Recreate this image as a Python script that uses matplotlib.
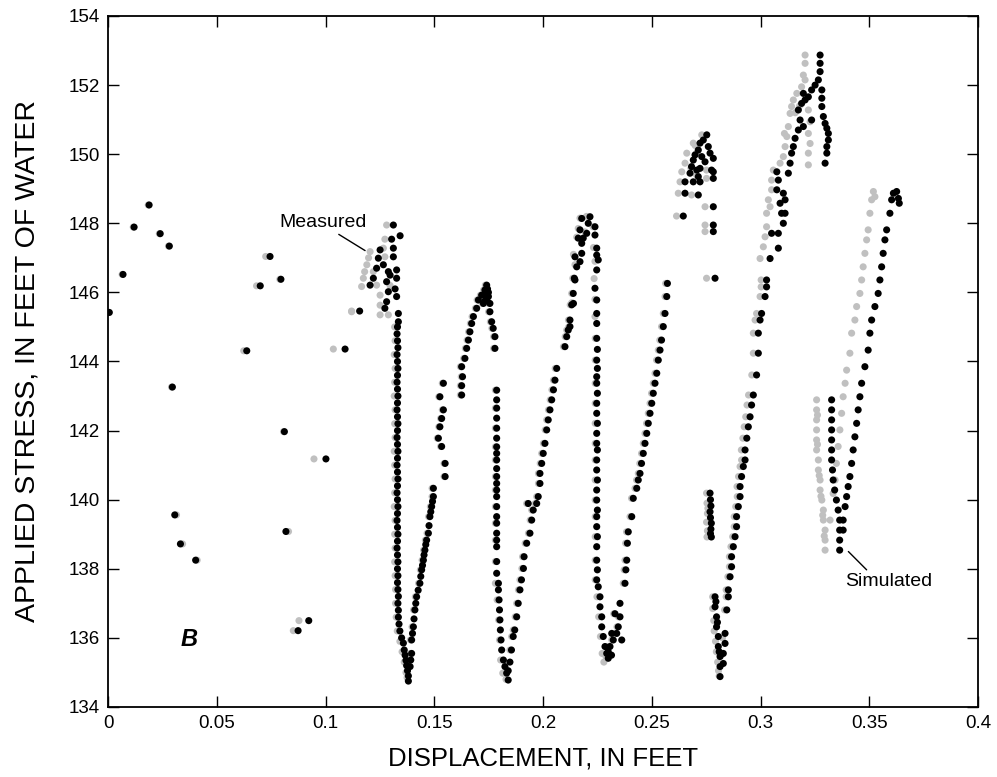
import numpy as np
import matplotlib
matplotlib.use("Agg")
import matplotlib.pyplot as plt

plt.rcParams['font.family'] = ['Liberation Sans', 'DejaVu Sans']

# ---------------- Simulated (black) ----------------
sim_early = [[0.0006,145.42],[0.0069,146.52],[0.0120,147.89],[0.0189,148.53],[0.0240,147.70],[0.0282,147.34],
             [0.0296,143.26],[0.0307,139.56],[0.0333,138.72],[0.0403,138.25],[0.0638,144.31],[0.0700,146.19],
             [0.0745,147.04],[0.0795,146.38],[0.0811,141.97],[0.0818,139.08],[0.0874,136.21],[0.0923,136.50],
             [0.1002,141.18],[0.1090,144.36],[0.1157,145.46]]
sim_top1 = [[0.1205,146.21],[0.1220,146.41],[0.1235,146.70],[0.1243,146.99],[0.1251,147.23],[0.1266,146.80],
            [0.1289,146.60],[0.1281,146.31],[0.1289,146.02],[0.1281,145.73],[0.1273,145.54],[0.1304,147.54],
            [0.1312,147.28],[0.1312,147.03],[0.1312,147.95],[0.1343,147.64],[0.1327,146.65],[0.1327,146.41],
            [0.1327,145.88],[0.1335,145.39],[0.1335,145.15],[0.1320,146.10],[0.1297,146.50]]
sim_down1 = [[0.1331,145.0],[0.1329,144.8],[0.1331,144.6],[0.1333,144.4],[0.1329,144.2],[0.1331,144.0],
             [0.1333,143.8],[0.1331,143.6],[0.1329,143.4],[0.1331,143.2],[0.1333,143.0],[0.1331,142.8],
             [0.1329,142.6],[0.1331,142.4],[0.1333,142.2],[0.1331,142.0],[0.1329,141.8],[0.1331,141.6],
             [0.1333,141.4],[0.1331,141.2],[0.1329,141.0],[0.1331,140.8],[0.1333,140.6],[0.1331,140.4],
             [0.1329,140.2],[0.1331,140.0],[0.1333,139.8],[0.1331,139.6],[0.1329,139.4],[0.1331,139.2],
             [0.1333,139.0],[0.1331,138.8],[0.1329,138.6],[0.1331,138.4],[0.1333,138.2],[0.1331,138.0],
             [0.1333,137.8],[0.1331,137.6],[0.1333,137.4],[0.1335,137.2],[0.1333,137.0],[0.1335,136.8],
             [0.1335,136.6],[0.1338,136.4],[0.1342,136.2],[0.1350,136.0],[0.1358,135.85],[0.1362,135.65],
             [0.1366,135.5],[0.1370,135.35],[0.1373,135.2],[0.1377,135.05],[0.1381,134.9],[0.1381,134.75]]
sim_up1 = [[0.1389,135.17],[0.1392,135.36],[0.1396,135.55],[0.1396,135.94],[0.1400,136.13],[0.1404,136.32],
           [0.1407,136.55],[0.1411,136.81],[0.1415,137.00],[0.1419,137.19],[0.1426,137.38],[0.1434,137.58],
           [0.1438,137.78],[0.1442,137.97],[0.1446,138.10],[0.1450,138.25],[0.1453,138.40],[0.1457,138.54],
           [0.1461,138.70],[0.1465,138.83],[0.1473,139.03],[0.1476,139.25],[0.1480,139.51],[0.1484,139.65],
           [0.1488,139.80],[0.1492,139.95],[0.1496,140.09],[0.1496,140.33]]
sim_mid1 = [[0.1550,140.67],[0.1550,141.05],[0.1534,141.54],[0.1519,141.78],[0.1526,142.11],[0.1534,142.35],
            [0.1542,142.60],[0.1526,142.98],[0.1542,143.37]]
sim_up1b = [[0.1626,143.03],[0.1626,143.30],[0.1630,143.56],[0.1626,143.85],[0.1641,144.09],[0.1649,144.38],
            [0.1657,144.62],[0.1664,144.86],[0.1672,145.10],[0.1680,145.30],[0.1695,145.54],[0.1703,145.78],
            [0.1718,145.92],[0.1733,146.07],[0.1741,146.21],[0.1749,145.88],[0.1726,145.68],[0.1756,145.68],
            [0.1756,145.44],[0.1764,145.15],[0.1771,144.96],[0.1779,144.72],[0.1779,144.38],[0.1737,145.95],
            [0.1745,146.10],[0.1741,145.80],[0.1733,145.75],[0.1749,146.00]]
sim_down2 = [[0.1787,143.17],[0.1787,142.89],[0.1787,142.65],[0.1787,142.36],[0.1787,142.07],[0.1787,141.78],
             [0.1787,141.53],[0.1787,141.34],[0.1787,141.15],[0.1787,140.90],[0.1787,140.67],[0.1787,140.47],
             [0.1787,140.28],[0.1787,140.09],[0.1787,139.80],[0.1787,139.51],[0.1787,139.32],[0.1787,139.03],
             [0.1787,138.83],[0.1787,138.64],[0.1787,138.21],[0.1787,137.87],[0.1795,137.58],[0.1795,137.39],
             [0.1798,137.10],[0.1800,136.81],[0.1802,136.52],[0.1804,136.23],[0.1807,135.94],[0.1810,135.65],
             [0.1818,135.36],[0.1825,135.17],[0.1833,134.98],[0.1840,134.78],[0.1848,135.30],[0.1840,135.05]]
sim_up2 = [[0.1855,135.65],[0.1863,136.04],[0.1870,136.23],[0.1879,136.61],[0.1886,137.00],[0.1894,137.39],
           [0.1901,137.68],[0.1910,138.01],[0.1913,138.35],[0.1925,138.74],[0.1940,139.03],[0.1948,139.41],
           [0.1955,139.70],[0.1932,139.89],[0.1971,139.89],[0.1978,140.09],[0.1986,140.47],[0.1986,140.76],
           [0.1994,141.05],[0.2001,141.34],[0.2009,141.63],[0.2017,142.02],[0.2024,142.31],[0.2032,142.60],
           [0.2040,142.89],[0.2048,143.18],[0.2055,143.46],[0.2063,143.80],[0.2101,144.43],[0.2109,144.72],
           [0.2116,144.91],[0.2124,145.20],[0.2132,145.64],[0.2139,145.97],[0.2144,146.41]]
sim_top2 = [[0.2124,145.01],[0.2140,145.68],[0.2147,146.36],[0.2155,146.74],[0.2147,147.03],[0.2170,146.89],
            [0.2178,147.13],[0.2178,147.42],[0.2162,147.57],[0.2185,147.57],[0.2170,147.81],[0.2178,148.14],
            [0.2216,148.19],[0.2208,148.00],[0.2201,147.71],[0.2239,147.90],[0.2239,147.66],[0.2247,147.28],
            [0.2247,147.08],[0.2254,146.94],[0.2247,146.65],[0.2239,146.12],[0.2247,145.78],[0.2247,145.39],
            [0.2247,145.10]]
sim_down3 = [[0.2247,144.67],[0.2250,144.35],[0.2247,144.04],[0.2250,143.80],[0.2247,143.56],[0.2247,143.37],
             [0.2250,143.08],[0.2247,142.79],[0.2247,142.50],[0.2250,142.21],[0.2247,141.92],[0.2247,141.63],
             [0.2250,141.44],[0.2247,141.15],[0.2247,140.86],[0.2250,140.57],[0.2247,140.28],[0.2247,139.99],
             [0.2250,139.70],[0.2247,139.51],[0.2247,139.22],[0.2250,138.93],[0.2247,138.64],[0.2247,138.25],
             [0.2250,137.97],[0.2247,137.68],[0.2254,137.48],[0.2262,137.19],[0.2262,136.90],[0.2270,136.61],
             [0.2270,136.32],[0.2277,136.04],[0.2285,135.75],[0.2293,135.55],[0.2300,135.41]]
sim_bot3 = [[0.2308,135.75],[0.2323,135.94],[0.2339,136.13],[0.2354,136.61],[0.2354,137.00],[0.2362,135.94],
            [0.2346,136.32],[0.2331,136.70],[0.2316,136.13],[0.2300,135.60],[0.2315,135.50]]
sim_up3 = [[0.2377,137.58],[0.2381,137.97],[0.2385,138.25],[0.2388,138.74],[0.2392,139.07],[0.2408,139.51],
           [0.2415,140.04],[0.2431,140.33],[0.2438,140.57],[0.2446,140.76],[0.2453,141.05],[0.2461,141.34],
           [0.2469,141.63],[0.2477,141.92],[0.2484,142.21],[0.2492,142.50],[0.2500,142.79],[0.2507,143.08],
           [0.2515,143.37],[0.2523,143.66],[0.2530,144.04],[0.2538,144.33],[0.2545,144.62],[0.2553,145.01],
           [0.2561,145.39],[0.2569,145.88],[0.2572,146.26]]
sim_top4 = [[0.2753,150.56],[0.2737,150.41],[0.2722,150.32],[0.2760,150.22],[0.2714,150.12],[0.2768,150.03],
            [0.2699,149.98],[0.2730,149.93],[0.2783,149.88],[0.2691,149.83],[0.2745,149.78],[0.2683,149.64],
            [0.2722,149.59],[0.2775,149.54],[0.2707,149.54],[0.2676,149.45],[0.2714,149.35],[0.2783,149.49],
            [0.2783,149.30],[0.2653,149.20],[0.2691,149.20],[0.2722,149.20],[0.2653,148.87],[0.2714,148.82],
            [0.2783,148.48],[0.2645,148.21],[0.2783,147.95],[0.2783,147.76],[0.2791,146.41]]
sim_down4 = [[0.2768,140.19],[0.2770,140.00],[0.2772,139.82],[0.2768,139.65],[0.2770,139.48],[0.2774,139.32],
             [0.2772,139.15],[0.2770,139.02],[0.2774,138.92],[0.2791,137.19],[0.2791,136.90],[0.2798,136.61],
             [0.2798,136.32],[0.2806,136.04],[0.2806,135.75],[0.2814,135.46],[0.2814,135.17],[0.2814,134.88],
             [0.2837,136.13],[0.2837,135.84],[0.2829,135.55],[0.2829,135.26],[0.2795,137.05],[0.2802,136.45],
             [0.2810,135.60]]
sim_up4 = [[0.2845,136.81],[0.2852,137.19],[0.2852,137.39],[0.2860,137.77],[0.2867,138.06],[0.2867,138.35],
           [0.2875,138.64],[0.2883,138.93],[0.2890,139.22],[0.2890,139.51],[0.2898,139.80],[0.2906,140.09],
           [0.2906,140.38],[0.2913,140.67],[0.2921,140.96],[0.2929,141.15],[0.2929,141.44],[0.2937,141.78],
           [0.2944,142.11],[0.2952,142.40],[0.2959,142.74],[0.2967,143.03],[0.2982,143.61],[0.2990,144.24],
           [0.2990,144.82],[0.2998,145.20],[0.3005,145.39],[0.3021,145.88],[0.3028,146.16],[0.3028,146.36],
           [0.3044,146.98]]
sim_top5 = [[0.3082,147.28],[0.3051,147.71],[0.3082,147.71],[0.3105,148.00],[0.3113,148.29],[0.3097,148.29],
            [0.3090,148.58],[0.3113,148.68],[0.3075,148.97],[0.3105,148.87],[0.3082,149.25],[0.3075,149.49],
            [0.3128,149.45],[0.3136,149.74],[0.3143,150.03],[0.3151,150.22],[0.3159,150.46],[0.3174,150.70],
            [0.3182,150.99],[0.3174,151.28],[0.3189,151.47],[0.3205,151.57],[0.3220,151.66],[0.3197,151.76],
            [0.3235,151.86],[0.3251,152.00],[0.3266,152.15],[0.3274,152.39],[0.3274,152.63],[0.3274,152.87],
            [0.3282,151.86],[0.3282,151.62],[0.3282,151.38],[0.3289,151.09],[0.3297,150.89],[0.3305,150.75],
            [0.3312,150.60],[0.3312,150.41],[0.3305,150.22],[0.3305,150.03],[0.3297,149.74],[0.3197,150.80],
            [0.3235,150.99]]
sim_down5 = [[0.3327,142.89],[0.3327,142.60],[0.3327,142.31],[0.3327,142.02],[0.3327,141.73],[0.3327,141.44],
             [0.3327,141.15],[0.3331,140.86],[0.3334,140.57],[0.3341,140.28],[0.3349,139.99],[0.3357,139.70],
             [0.3364,139.41],[0.3364,139.12],[0.3364,138.83],[0.3364,138.54],[0.3380,139.41],[0.3380,139.12]]
sim_up5 = [[0.3389,139.80],[0.3396,140.09],[0.3403,140.38],[0.3411,140.67],[0.3419,141.05],[0.3426,141.44],
           [0.3434,141.82],[0.3442,142.21],[0.3449,142.60],[0.3457,142.98],[0.3465,143.37],[0.3480,143.85],
           [0.3495,144.33],[0.3503,144.82],[0.3511,145.20],[0.3526,145.59],[0.3541,145.97],[0.3549,146.36],
           [0.3557,146.74],[0.3564,147.13],[0.3572,147.52],[0.3580,147.81],[0.3595,148.29],[0.3603,148.68],
           [0.3611,148.87],[0.3626,148.92],[0.3634,148.72],[0.3638,148.58]]

# ---------------- Measured (gray) ----------------
meas_early = [[0.0004,145.42],[0.0065,146.52],[0.0116,147.89],[0.0185,148.53],[0.0236,147.70],[0.0278,147.34],
              [0.0292,143.26],[0.0315,139.56],[0.0343,138.72],[0.0410,138.25],[0.0624,144.31],[0.0683,146.19],
              [0.0725,147.04],[0.0790,146.38],[0.0807,141.97],[0.0830,139.08],[0.0852,136.21],[0.0878,136.50],
              [0.0947,141.18],[0.1036,144.36],[0.1120,145.46]]
meas_top1 = [[0.1281,147.95],[0.1273,147.54],[0.1266,147.28],[0.1273,147.03],[0.1205,147.18],[0.1190,146.80],
             [0.1174,146.41],[0.1166,146.17],[0.1220,146.60],[0.1235,146.21],[0.1251,145.92],[0.1251,145.63],
             [0.1251,145.35],[0.1120,145.44],[0.1289,145.35],[0.1297,146.20],[0.1180,146.60],[0.1198,147.00]]
meas_down1 = [[0.1318,145.0],[0.1320,144.6],[0.1316,144.2],[0.1320,143.8],[0.1318,143.4],[0.1316,143.0],
              [0.1320,142.6],[0.1318,142.2],[0.1320,141.8],[0.1316,141.4],[0.1318,141.0],[0.1320,140.6],
              [0.1318,140.2],[0.1316,139.8],[0.1320,139.4],[0.1318,139.0],[0.1320,138.6],[0.1318,138.2],
              [0.1320,137.8],[0.1322,137.4],[0.1322,137.0],[0.1325,136.6],[0.1330,136.2],[0.1342,135.9],
              [0.1352,135.6],[0.1362,135.3],[0.1370,135.0],[0.1375,134.85]]
meas_up1 = [[0.1383,135.17],[0.1390,135.55],[0.1390,135.94],[0.1398,136.32],[0.1405,136.81],[0.1413,137.19],
            [0.1428,137.58],[0.1436,137.97],[0.1444,138.25],[0.1451,138.54],[0.1459,138.83],[0.1467,139.03],
            [0.1474,139.51],[0.1482,139.80],[0.1490,140.09],[0.1490,140.33]]
meas_mid1 = [[0.1545,140.67],[0.1545,141.05],[0.1529,141.54],[0.1514,141.78],[0.1521,142.11],[0.1529,142.35],
             [0.1537,142.60],[0.1521,142.98],[0.1537,143.37]]
meas_up1b = [[0.1620,143.03],[0.1620,143.30],[0.1624,143.56],[0.1620,143.85],[0.1635,144.09],[0.1643,144.38],
             [0.1651,144.62],[0.1658,144.86],[0.1666,145.10],[0.1674,145.30],[0.1689,145.54],[0.1697,145.78],
             [0.1712,145.92],[0.1727,146.07],[0.1735,146.21],[0.1743,145.88],[0.1720,145.68],[0.1750,145.68],
             [0.1750,145.44],[0.1758,145.15],[0.1765,144.96],[0.1773,144.72],[0.1773,144.38]]
meas_down2 = [[0.1781,143.17],[0.1781,142.65],[0.1781,142.07],[0.1781,141.53],[0.1781,141.15],[0.1781,140.67],
              [0.1781,140.28],[0.1781,139.80],[0.1781,139.32],[0.1781,138.83],[0.1781,138.21],[0.1781,137.58],
              [0.1789,137.10],[0.1796,136.52],[0.1800,135.94],[0.1805,135.36],[0.1815,134.98],[0.1830,134.80]]
meas_up2 = [[0.1848,135.65],[0.1856,136.04],[0.1863,136.23],[0.1872,136.61],[0.1879,137.00],[0.1887,137.39],
            [0.1894,137.68],[0.1903,138.01],[0.1906,138.35],[0.1918,138.74],[0.1933,139.03],[0.1941,139.41],
            [0.1948,139.70],[0.1925,139.89],[0.1964,139.89],[0.1971,140.09],[0.1979,140.47],[0.1979,140.76],
            [0.1987,141.05],[0.1994,141.34],[0.2002,141.63],[0.2010,142.02],[0.2017,142.31],[0.2025,142.60],
            [0.2033,142.89],[0.2041,143.18],[0.2048,143.46],[0.2056,143.80],[0.2094,144.43],[0.2102,144.72],
            [0.2109,144.91],[0.2117,145.20],[0.2125,145.64],[0.2132,145.97],[0.2137,146.41]]
meas_top2 = [[0.2118,145.00],[0.2132,145.70],[0.2140,146.40],[0.2147,146.80],[0.2140,147.10],[0.2155,147.60],
             [0.2162,147.85],[0.2170,148.15],[0.2200,148.20],[0.2193,147.75],[0.2230,147.90],[0.2232,147.30],
             [0.2239,146.90],[0.2235,146.40],[0.2239,145.80],[0.2239,145.30]]
meas_down3 = [[0.2240,144.67],[0.2240,144.04],[0.2240,143.37],[0.2240,142.79],[0.2240,142.21],[0.2240,141.63],
              [0.2240,141.15],[0.2240,140.57],[0.2240,139.99],[0.2240,139.51],[0.2240,138.93],[0.2240,138.25],
              [0.2240,137.68],[0.2248,137.19],[0.2256,136.61],[0.2264,136.04],[0.2272,135.55],[0.2280,135.30],
              [0.2290,135.45]]
meas_bot3 = [[0.2300,135.75],[0.2316,135.94],[0.2332,136.13],[0.2347,136.61],[0.2340,136.32],[0.2325,136.70]]
meas_up3 = [[0.2369,137.58],[0.2373,137.97],[0.2377,138.25],[0.2380,138.74],[0.2384,139.07],[0.2400,139.51],
            [0.2407,140.04],[0.2423,140.33],[0.2430,140.57],[0.2438,140.76],[0.2445,141.05],[0.2453,141.34],
            [0.2461,141.63],[0.2469,141.92],[0.2476,142.21],[0.2484,142.50],[0.2492,142.79],[0.2499,143.08],
            [0.2507,143.37],[0.2515,143.66],[0.2522,144.04],[0.2530,144.33],[0.2537,144.62],[0.2545,145.01],
            [0.2553,145.39],[0.2561,145.88],[0.2564,146.26]]
meas_top4 = [[0.2730,150.56],[0.2691,150.32],[0.2661,150.03],[0.2653,149.74],[0.2638,149.49],[0.2630,149.20],
             [0.2622,148.87],[0.2683,148.82],[0.2745,148.48],[0.2614,148.21],[0.2745,147.95],[0.2745,147.76],
             [0.2752,146.41],[0.2706,150.03],[0.2752,149.54],[0.2752,149.30],[0.2706,149.40],[0.2680,149.60],
             [0.2700,150.25]]
meas_down4 = [[0.2752,140.19],[0.2754,139.90],[0.2756,139.60],[0.2752,139.35],[0.2756,139.10],[0.2754,138.92],
              [0.2758,139.75],[0.2780,137.19],[0.2780,136.85],[0.2785,136.50],[0.2787,136.20],[0.2793,135.90],
              [0.2797,135.60],[0.2803,135.30],[0.2807,135.05],[0.2810,134.90],[0.2825,136.00],[0.2820,135.50]]
meas_up4 = [[0.2835,136.81],[0.2842,137.19],[0.2842,137.39],[0.2850,137.77],[0.2857,138.06],[0.2857,138.35],
            [0.2864,138.64],[0.2872,138.93],[0.2879,139.22],[0.2879,139.51],[0.2886,139.80],[0.2893,140.09],
            [0.2892,140.38],[0.2899,140.67],[0.2906,140.96],[0.2913,141.15],[0.2912,141.44],[0.2919,141.78],
            [0.2925,142.11],[0.2932,142.40],[0.2938,142.74],[0.2945,143.03],[0.2960,143.61],[0.2967,144.24],
            [0.2967,144.82],[0.2975,145.20],[0.2982,145.39],[0.2998,145.88],[0.3003,146.16],[0.3003,146.36],
            [0.2998,146.98]]
meas_top5 = [[0.3013,147.32],[0.3021,147.61],[0.3028,147.90],[0.3028,148.29],[0.3044,148.48],[0.3036,148.68],
             [0.3051,148.97],[0.3051,149.25],[0.3059,149.54],[0.3090,149.74],[0.3105,149.93],[0.3113,150.22],
             [0.3121,150.51],[0.3128,150.80],[0.3136,151.18],[0.3143,151.38],[0.3151,151.57],[0.3167,151.76],
             [0.3189,151.95],[0.3197,152.29],[0.3205,152.15],[0.3205,152.63],[0.3205,152.87],[0.3220,151.28],
             [0.3228,150.94],[0.3220,150.60],[0.3228,150.31],[0.3220,150.03],[0.3220,149.69],[0.3180,151.40],
             [0.3160,151.20],[0.3110,150.60]]
meas_down5 = [[0.3258,142.89],[0.3258,142.60],[0.3258,142.31],[0.3258,142.02],[0.3258,141.73],[0.3258,141.44],
              [0.3266,141.15],[0.3266,140.86],[0.3274,140.57],[0.3274,140.28],[0.3282,139.99],[0.3289,139.70],
              [0.3289,139.41],[0.3297,139.12],[0.3297,138.83],[0.3297,138.54],[0.3320,139.41],[0.3262,142.45],
              [0.3262,141.60],[0.3270,140.70],[0.3278,140.10],[0.3286,139.55],[0.3293,138.95]]
meas_up5 = [[0.3334,140.18],[0.3343,140.57],[0.3349,141.05],[0.3357,141.54],[0.3365,142.02],[0.3373,142.50],
            [0.3380,142.98],[0.3389,143.37],[0.3396,143.75],[0.3411,144.24],[0.3419,144.82],[0.3434,145.20],
            [0.3442,145.59],[0.3457,145.97],[0.3465,146.36],[0.3472,146.74],[0.3480,147.13],[0.3488,147.52],
            [0.3495,147.81],[0.3503,148.29],[0.3511,148.68],[0.3519,148.92],[0.3526,148.77]]

sim_segments = [sim_early, sim_top1, sim_down1, sim_up1, sim_mid1, sim_up1b, sim_down2, sim_up2, sim_top2,
                sim_down3, sim_bot3, sim_up3, sim_top4, sim_down4, sim_up4, sim_top5, sim_down5, sim_up5]
meas_segments = [meas_early, meas_top1, meas_down1, meas_up1, meas_mid1, meas_up1b, meas_down2, meas_up2,
                 meas_top2, meas_down3, meas_bot3, meas_up3, meas_top4, meas_down4, meas_up4, meas_top5,
                 meas_down5, meas_up5]

x_ticks = [0, 0.05, 0.1, 0.15, 0.2, 0.25, 0.3, 0.35, 0.4]
x_tick_labels = ["0", "0.05", "0.1", "0.15", "0.2", "0.25", "0.3", "0.35", "0.4"]
y_ticks = list(range(134, 155, 2))

sim = np.vstack([np.array(s) for s in sim_segments])
meas = np.vstack([np.array(s) for s in meas_segments])

fig = plt.figure(figsize=(9.97, 7.77), dpi=100)
ax = fig.add_axes([108/997, 1-707/777, 870/997, 691/777])

ms = 26
ax.scatter(meas[:, 0], meas[:, 1], s=ms, c='#c0c0c0', edgecolors='none', zorder=2)
ax.scatter(sim[:, 0], sim[:, 1], s=ms, c='black', edgecolors='none', zorder=3)

ax.set_xlim(0, 0.4)
ax.set_ylim(134, 154)
ax.set_xticks(x_ticks)
ax.set_xticklabels(x_tick_labels)
ax.set_yticks(y_ticks)
ax.tick_params(direction='in', length=8, width=1, top=True, right=True, labelsize=13.5, pad=6)
for sp in ax.spines.values():
    sp.set_linewidth(1.3)

ax.set_xlabel("DISPLACEMENT, IN FEET", fontsize=18.5, labelpad=10)
ax.set_ylabel("APPLIED STRESS, IN FEET OF WATER", fontsize=20.5, labelpad=20)

# leader lines for the labels
ax.annotate("", xy=(0.1182, 147.21), xytext=(0.1061, 147.68),
            arrowprops=dict(arrowstyle='-', color='black', lw=1.0, shrinkA=0, shrinkB=0))
ax.text(0.0989, 148.02, "Measured", fontsize=14, ha='center', va='center')
ax.annotate("", xy=(0.3404, 138.50), xytext=(0.3488, 137.97),
            arrowprops=dict(arrowstyle='-', color='black', lw=1.0, shrinkA=0, shrinkB=0))
ax.text(0.3588, 137.63, "Simulated", fontsize=14, ha='center', va='center')
ax.text(0.0374, 135.94, "B", fontsize=17, fontweight='bold', fontstyle='italic', ha='center', va='center')

fig.savefig("out.png", dpi=100)
